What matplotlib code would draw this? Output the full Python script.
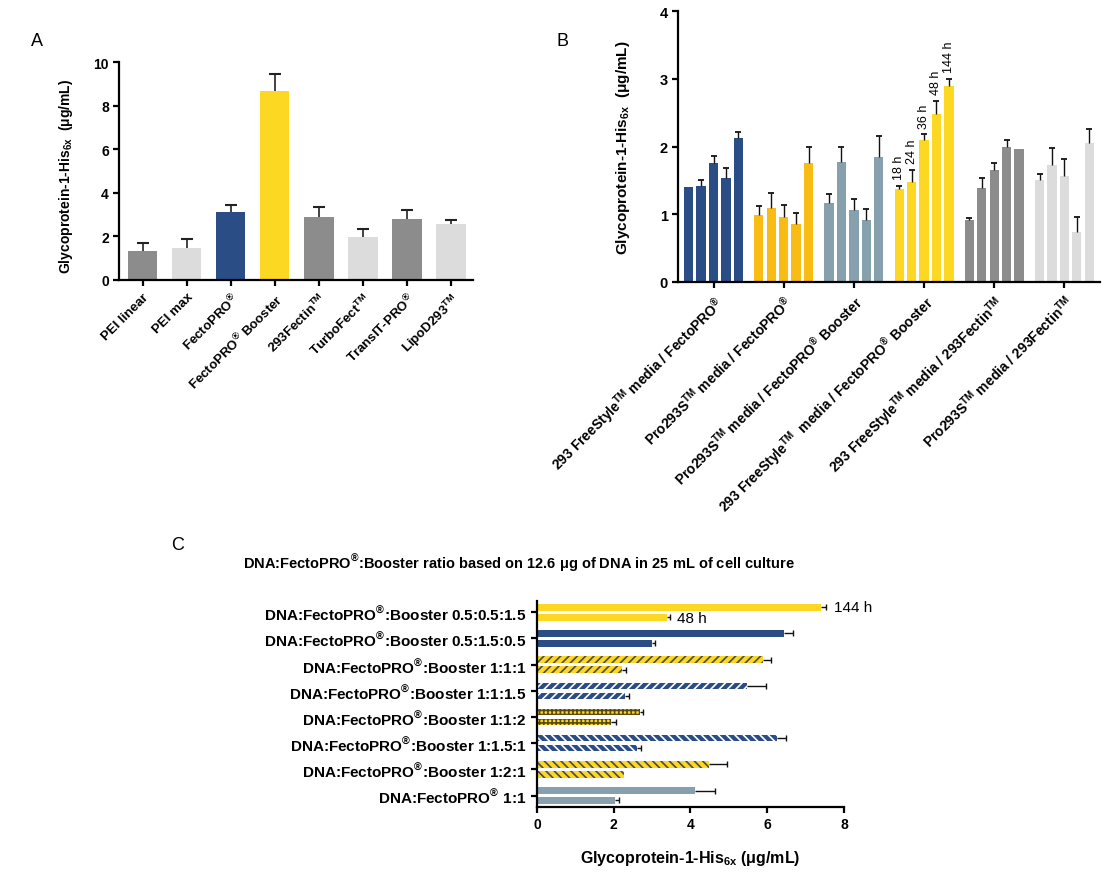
import matplotlib.pyplot as plt
import numpy as np

plt.rcParams['font.family'] = ['Liberation Sans', 'DejaVu Sans']
plt.rcParams['font.weight'] = 'bold'
plt.rcParams['axes.labelweight'] = 'bold'
plt.rcParams['mathtext.fontset'] = 'custom'
plt.rcParams['mathtext.rm'] = 'Liberation Sans'
plt.rcParams['mathtext.bf'] = 'Liberation Sans:bold'
plt.rcParams['hatch.linewidth'] = 1.2
plt.rcParams['axes.linewidth'] = 1.6
plt.rcParams['xtick.major.width'] = 1.6
plt.rcParams['ytick.major.width'] = 1.6
plt.rcParams['xtick.major.size'] = 4
plt.rcParams['ytick.major.size'] = 4

R = r'$^{\mathrm{®}}$'
TM = r'$^{\mathrm{TM}}$'
NAVY = '#2a4d85'
YEL = '#fdd822'
ORA = '#f9bc14'
BGR = '#86a0ae'
GRY = '#8c8c8c'
LGR = '#dcdcdc'
YLAB = r'Glycoprotein-1-His$_{\mathbf{6x}}$  (μg/mL)'

# ---- panel A data
a_labels = ['PEI linear', 'PEI max', 'FectoPRO' + R, 'FectoPRO' + R + ' Booster',
            '293Fectin' + TM, 'TurboFect' + TM, 'TransIT-PRO' + R, 'LipoD293' + TM]
a_vals = [1.35, 1.45, 3.1, 8.7, 2.87, 1.95, 2.78, 2.55]
a_err = [0.37, 0.42, 0.35, 0.75, 0.48, 0.37, 0.42, 0.2]
a_cols = [GRY, LGR, NAVY, YEL, GRY, LGR, GRY, LGR]

# ---- panel B data
b_labels = ['293 FreeStyle' + TM + ' media / FectoPRO' + R,
            'Pro293S' + TM + ' media / FectoPRO' + R,
            'Pro293S' + TM + ' media / FectoPRO' + R + ' Booster',
            '293 FreeStyle' + TM + '  media / FectoPRO' + R + ' Booster',
            '293 FreeStyle' + TM + ' media / 293Fectin' + TM,
            'Pro293S' + TM + ' media / 293Fectin' + TM]
b_vals = [[1.40, 1.42, 1.75, 1.54, 2.12],
          [0.98, 1.09, 0.95, 0.86, 1.75],
          [1.17, 1.77, 1.06, 0.91, 1.85],
          [1.37, 1.48, 2.09, 2.48, 2.89],
          [0.92, 1.38, 1.65, 1.99, 1.96],
          [1.50, 1.72, 1.57, 0.73, 2.05]]
b_err = [[0.0, 0.09, 0.11, 0.14, 0.09],
         [0.14, 0.22, 0.18, 0.16, 0.24],
         [0.13, 0.23, 0.17, 0.17, 0.31],
         [0.05, 0.17, 0.09, 0.19, 0.11],
         [0.02, 0.15, 0.11, 0.10, 0.0],
         [0.10, 0.26, 0.25, 0.23, 0.21]]
b_cols = [NAVY, ORA, BGR, YEL, GRY, LGR]
b_times = ['18 h', '24 h', '36 h', '48 h', '144 h']

# ---- panel C data (top to bottom)
c_labels = ['DNA:FectoPRO' + R + ':Booster 0.5:0.5:1.5',
            'DNA:FectoPRO' + R + ':Booster 0.5:1.5:0.5',
            'DNA:FectoPRO' + R + ':Booster 1:1:1',
            'DNA:FectoPRO' + R + ':Booster 1:1:1.5',
            'DNA:FectoPRO' + R + ':Booster 1:1:2',
            'DNA:FectoPRO' + R + ':Booster 1:1.5:1',
            'DNA:FectoPRO' + R + ':Booster 1:2:1',
            'DNA:FectoPRO' + R + ' 1:1']
c_144 = [7.39, 6.43, 5.88, 5.48, 2.68, 6.25, 4.48, 4.12]
c_144e = [0.15, 0.24, 0.23, 0.48, 0.09, 0.24, 0.46, 0.53]
c_48 = [3.40, 3.00, 2.21, 2.29, 1.93, 2.61, 2.26, 2.04]
c_48e = [0.07, 0.08, 0.10, 0.11, 0.12, 0.09, 0.0, 0.11]
c_face = [YEL, NAVY, YEL, NAVY, YEL, NAVY, YEL, BGR]
c_hcol = [YEL, NAVY, '#4a4a4a', 'white', '#5a4a10', 'white', '#4a4a4a', BGR]
c_hatch = [None, None, '////', '////', '++++', '\\\\\\\\', '\\\\\\\\', None]

fig = plt.figure(figsize=(11.14, 8.78), dpi=100)


def style(ax):
    ax.spines['top'].set_visible(False)
    ax.spines['right'].set_visible(False)
    ax.tick_params(labelsize=10)


def up_err(ax, xs, vals, errs, cap=7, lw=1.2, color='#222222'):
    # upper error only, with a cap at the top
    for x, v, e in zip(xs, vals, errs):
        if e <= 0:
            continue
        ax.plot([x, x], [v, v + e], color=color, lw=lw, solid_capstyle='butt')
        ax.plot([x], [v + e], marker='_', ms=cap, mew=lw + 0.3, color=color)


def right_err(ax, x, y, e, cap=5, lw=1.0, color='#111111'):
    ax.plot([x, x + e], [y, y], color=color, lw=lw, solid_capstyle='butt')
    ax.plot([x + e], [y], marker='|', ms=cap, mew=lw, color=color)


# ---- A
axA = fig.add_axes([0.107, 0.68, 0.318, 0.248])
xa = np.arange(len(a_vals))
axA.bar(xa, a_vals, width=0.67, color=a_cols)
up_err(axA, xa, a_vals, a_err, cap=8)
axA.set_xlim(-0.53, 7.51)
axA.set_ylim(0, 10)
axA.set_yticks([0, 2, 4, 6, 8, 10])
axA.set_xticks(xa)
axA.set_xticklabels(a_labels, rotation=45, ha='right', rotation_mode='anchor', fontsize=9.5)
axA.set_ylabel(YLAB, fontsize=10)
axA.yaxis.set_label_coords(-0.125, 0.48)
style(axA)
axA.tick_params(axis='x', labelsize=9.5)

# ---- B
axB = fig.add_axes([0.609, 0.678, 0.378, 0.308])
pitch = 0.177
for g in range(len(b_vals)):
    xs = g + (np.arange(5) - 2) * pitch
    axB.bar(xs, b_vals[g], width=0.132, color=b_cols[g])
    up_err(axB, xs, b_vals[g], b_err[g], cap=4, lw=1.0, color='#111111')
    if g == 3:
        for x, v, e, t in zip(xs, b_vals[g], b_err[g], b_times):
            axB.text(x, v + e + 0.1, t, rotation=90, ha='center', va='bottom',
                     fontsize=9, fontweight='normal')
axB.set_xlim(-0.5, 5.5)
axB.set_ylim(0, 4)
axB.set_yticks([0, 1, 2, 3, 4])
axB.set_xticks(np.arange(6))
axB.set_xticklabels(b_labels, rotation=45, ha='right', rotation_mode='anchor', fontsize=11)
axB.set_ylabel(YLAB, fontsize=11)
axB.yaxis.set_label_coords(-0.11, 0.5)
style(axB)
axB.tick_params(axis='y', labelsize=10.5)

# ---- C
axC = fig.add_axes([0.482, 0.08, 0.2756, 0.234])
yc = np.arange(len(c_labels))
h = 0.25
for i in range(len(c_labels)):
    for yy, v, e in [(yc[i] - 0.19, c_144[i], c_144e[i]), (yc[i] + 0.19, c_48[i], c_48e[i])]:
        axC.barh(yy, v, height=h, color=c_face[i], edgecolor=c_hcol[i],
                 hatch=c_hatch[i], linewidth=0)
        if e > 0:
            right_err(axC, v, yy, e)
axC.text(c_144[0] + c_144e[0] + 0.2, yc[0] - 0.19, '144 h', va='center',
         fontsize=11, fontweight='normal')
axC.text(c_48[0] + c_48e[0] + 0.17, yc[0] + 0.22, '48 h', va='center',
         fontsize=11, fontweight='normal')
axC.set_ylim(7.43, -0.42)
axC.set_xlim(0, 8)
axC.set_xticks([0, 2, 4, 6, 8])
axC.set_yticks(yc)
axC.set_yticklabels(c_labels, fontsize=11)
axC.set_xlabel(r'Glycoprotein-1-His$_{\mathbf{6x}}$ (μg/mL)', fontsize=11.5)
axC.xaxis.set_label_coords(0.5, -0.2)
style(axC)
axC.tick_params(axis='y', labelsize=11)

fig.text(519 / 1114, 1 - 563 / 878,
         'DNA:FectoPRO' + R + ':Booster ratio based on 12.6 μg of DNA in 25 mL of cell culture',
         ha='center', va='center', fontsize=10.5, fontweight='bold')

fig.text(37 / 1114, 1 - 42 / 878, 'A', fontsize=13, fontweight='normal', ha='center', va='center')
fig.text(563 / 1114, 1 - 42 / 878, 'B', fontsize=13, fontweight='normal', ha='center', va='center')
fig.text(178 / 1114, 1 - 545 / 878, 'C', fontsize=13, fontweight='normal', ha='center', va='center')

fig.savefig('out.png', dpi=100)
